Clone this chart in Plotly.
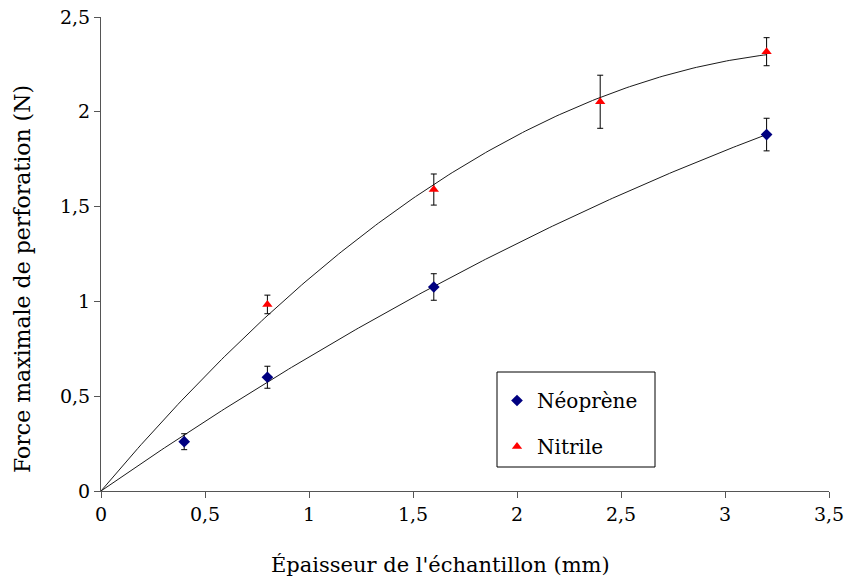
import numpy as np
import plotly.graph_objects as go

# Data
neo_x = [0.4, 0.8, 1.6, 3.2]
neo_y = [0.26, 0.60, 1.076, 1.88]
neo_err = [0.042, 0.058, 0.07, 0.086]

nit_x = [0.8, 1.6, 2.4, 3.2]
nit_y = [0.984, 1.59, 2.053, 2.317]
nit_err = [0.049, 0.082, 0.14, 0.074]

x_ticks = [0, 0.5, 1, 1.5, 2, 2.5, 3, 3.5]
x_labels = ["0", "0,5", "1", "1,5", "2", "2,5", "3", "3,5"]
y_ticks = [0, 0.5, 1, 1.5, 2, 2.5]
y_labels = ["0", "0,5", "1", "1,5", "2", "2,5"]

x_title = "Épaisseur de l'échantillon (mm)"
y_title = "Force maximale de perforation (N)"


def poly2_origin(x, y):
    x = np.asarray(x, float)
    y = np.asarray(y, float)
    A = np.column_stack([x, x ** 2])
    coef, *_ = np.linalg.lstsq(A, y, rcond=None)
    return coef


FONT = "DejaVu Serif"
W, H = 849, 584
L, R, T, B = 101, 20, 17, 93
PW, PH = W - L - R, H - T - B


def px(xpix):
    return (xpix - L) / PW


def py(ypix):
    return (H - B - ypix) / PH


fig = go.Figure()

for xs, ys in [(neo_x, neo_y), (nit_x, nit_y)]:
    a, b = poly2_origin(xs, ys)
    xf = np.linspace(0, max(xs), 200)
    fig.add_trace(go.Scatter(x=xf, y=a * xf + b * xf ** 2, mode="lines",
                             line=dict(color="#1a1a1a", width=1),
                             showlegend=False, hoverinfo="skip"))

err_style = dict(type="data", visible=True, color="black", thickness=1, width=3)

fig.add_trace(go.Scatter(
    x=neo_x, y=neo_y, mode="markers", name="Néoprène", legendgroup="a",
    marker=dict(symbol="diamond", color="#000080", size=9),
    error_y=dict(array=neo_err, **err_style)))
fig.add_trace(go.Scatter(
    x=nit_x, y=nit_y, mode="markers", name="Nitrile", legendgroup="b",
    marker=dict(symbol="triangle-up", color="#ff0000", size=9),
    error_y=dict(array=nit_err, **err_style)))

fig.add_shape(type="rect", xref="paper", yref="paper",
              x0=px(497), x1=px(655), y0=py(467), y1=py(372),
              line=dict(color="black", width=1), fillcolor="white", layer="below")

fig.add_annotation(text=x_title, xref="paper", yref="paper",
                   x=px(440), y=py(565), showarrow=False,
                   xanchor="center", yanchor="middle",
                   font=dict(family=FONT, size=21, color="black"))
fig.add_annotation(text=y_title, xref="paper", yref="paper",
                   x=px(22), y=py(279), showarrow=False, textangle=-90,
                   xanchor="center", yanchor="middle",
                   font=dict(family=FONT, size=22, color="black"))

fig.update_layout(
    width=W, height=H,
    margin=dict(l=L, r=R, t=T, b=B, autoexpand=False),
    paper_bgcolor="white", plot_bgcolor="white",
    font=dict(family=FONT, color="black", size=18),
    showlegend=True,
    legend=dict(x=px(497), y=py(381), xanchor="left", yanchor="top",
                borderwidth=0, bgcolor="rgba(0,0,0,0)",
                font=dict(family=FONT, size=20), tracegroupgap=17,
                traceorder="grouped"),
    xaxis=dict(range=[0, 3.5], tickvals=x_ticks, ticktext=x_labels,
               showgrid=False, zeroline=False, showline=True, automargin=False,
               linecolor="#555555", linewidth=1, ticks="outside",
               ticklen=6, tickcolor="#555555", ticklabeloverflow="allow",
               tickfont=dict(family=FONT, size=19)),
    yaxis=dict(range=[0, 2.5], tickvals=y_ticks, ticktext=y_labels,
               showgrid=False, zeroline=False, showline=True, automargin=False,
               linecolor="#555555", linewidth=1, ticks="outside",
               ticklen=6, tickcolor="#555555", ticklabeloverflow="allow",
               tickfont=dict(family=FONT, size=19)),
)

fig.write_html("out.html")
